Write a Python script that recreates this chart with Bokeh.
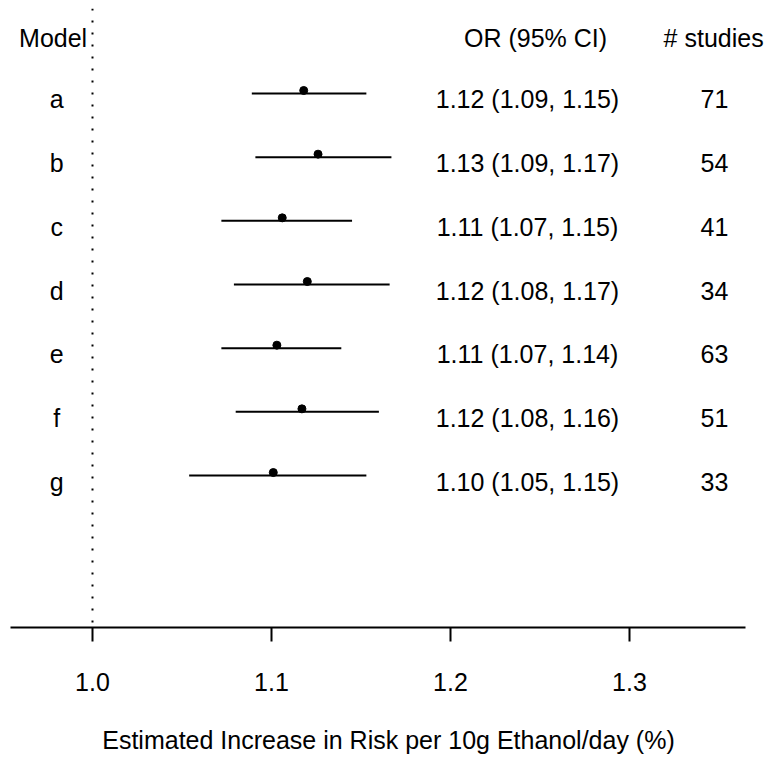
from bokeh.plotting import figure
from bokeh.models import Range1d, Span, FixedTicker, ColumnDataSource, PrintfTickFormatter
from bokeh.core.properties import value
from bokeh.embed import file_html
from bokeh.resources import INLINE

models = ["a", "b", "c", "d", "e", "f", "g"]
est = [1.118, 1.126, 1.106, 1.120, 1.103, 1.117, 1.101]
lo = [1.089, 1.091, 1.072, 1.079, 1.072, 1.080, 1.054]
hi = [1.153, 1.167, 1.145, 1.166, 1.139, 1.160, 1.153]
or_labels = ["1.12 (1.09, 1.15)", "1.13 (1.09, 1.17)", "1.11 (1.07, 1.15)",
             "1.12 (1.08, 1.17)", "1.11 (1.07, 1.14)", "1.12 (1.08, 1.16)",
             "1.10 (1.05, 1.15)"]
studies = ["71", "54", "41", "34", "63", "51", "33"]
x_ticks = [1.0, 1.1, 1.2, 1.3]
headers = ["Model", "OR (95% CI)", "# studies"]

FONT = "Liberation Sans"
FS = "25px"
row_px = 63.67

pos = list(range(1, len(models) + 1))
dot_pos = [y - 3 / row_px for y in pos]

src = ColumnDataSource(dict(model=models, est=est, lo=lo, hi=hi, orl=or_labels,
                            n=studies, pos=pos, dpos=dot_pos))

p = figure(width=766, height=770,
           x_range=Range1d(0.95419, 1.37654), y_range=Range1d(9.387, -0.335),
           output_backend="svg", toolbar_location=None, y_axis_location=None,
           min_border_left=10, min_border_right=0, min_border_top=8,
           min_border_bottom=143)
p.grid.visible = False
p.outline_line_color = None
p.background_fill_color = "white"

# reference line at OR = 1
p.add_layout(Span(location=1.0, dimension="height", line_color="black",
                  line_width=2, line_dash="2 10"))

p.segment(x0="lo", x1="hi", y0="pos", y1="pos", source=src,
          line_color="black", line_width=2)
p.scatter(x="est", y="dpos", source=src, size=8, color="black")

col_x = [0.980, 1.243, 1.3475]
for key, cx in zip(["model", "orl", "n"], col_x):
    p.text(x=cx, y="pos", text=key, source=src, text_font=value(FONT),
           text_font_size=FS, text_align="center", text_baseline="middle",
           y_offset=6, text_color="black")

hdr = ColumnDataSource(dict(x=[0.978, 1.2475, 1.347], y=[0.04] * 3, t=headers))
p.text(x="x", y="y", text="t", source=hdr, text_font=value(FONT),
       text_font_size=FS, text_align="center", text_baseline="middle",
       y_offset=6, text_color="black")

ax = p.xaxis[0]
ax.bounds = (0.95419, 1.3648)
ax.ticker = FixedTicker(ticks=x_ticks)
ax.formatter = PrintfTickFormatter(format="%.1f")
ax.axis_line_width = 2
ax.axis_line_color = "black"
ax.major_tick_line_width = 2
ax.major_tick_line_color = "black"
ax.major_tick_in = 0
ax.major_tick_out = 14
ax.minor_tick_line_color = None
ax.major_label_standoff = 31
ax.major_label_text_font = FONT
ax.major_label_text_font_size = FS
ax.major_label_text_color = "black"
ax.axis_label = "Estimated Increase in Risk per 10g Ethanol/day (%)"
ax.axis_label_standoff = 32
ax.axis_label_text_font = FONT
ax.axis_label_text_font_size = FS
ax.axis_label_text_font_style = "normal"
ax.axis_label_text_color = "black"

open("out.html", "w").write(file_html(p, INLINE))
